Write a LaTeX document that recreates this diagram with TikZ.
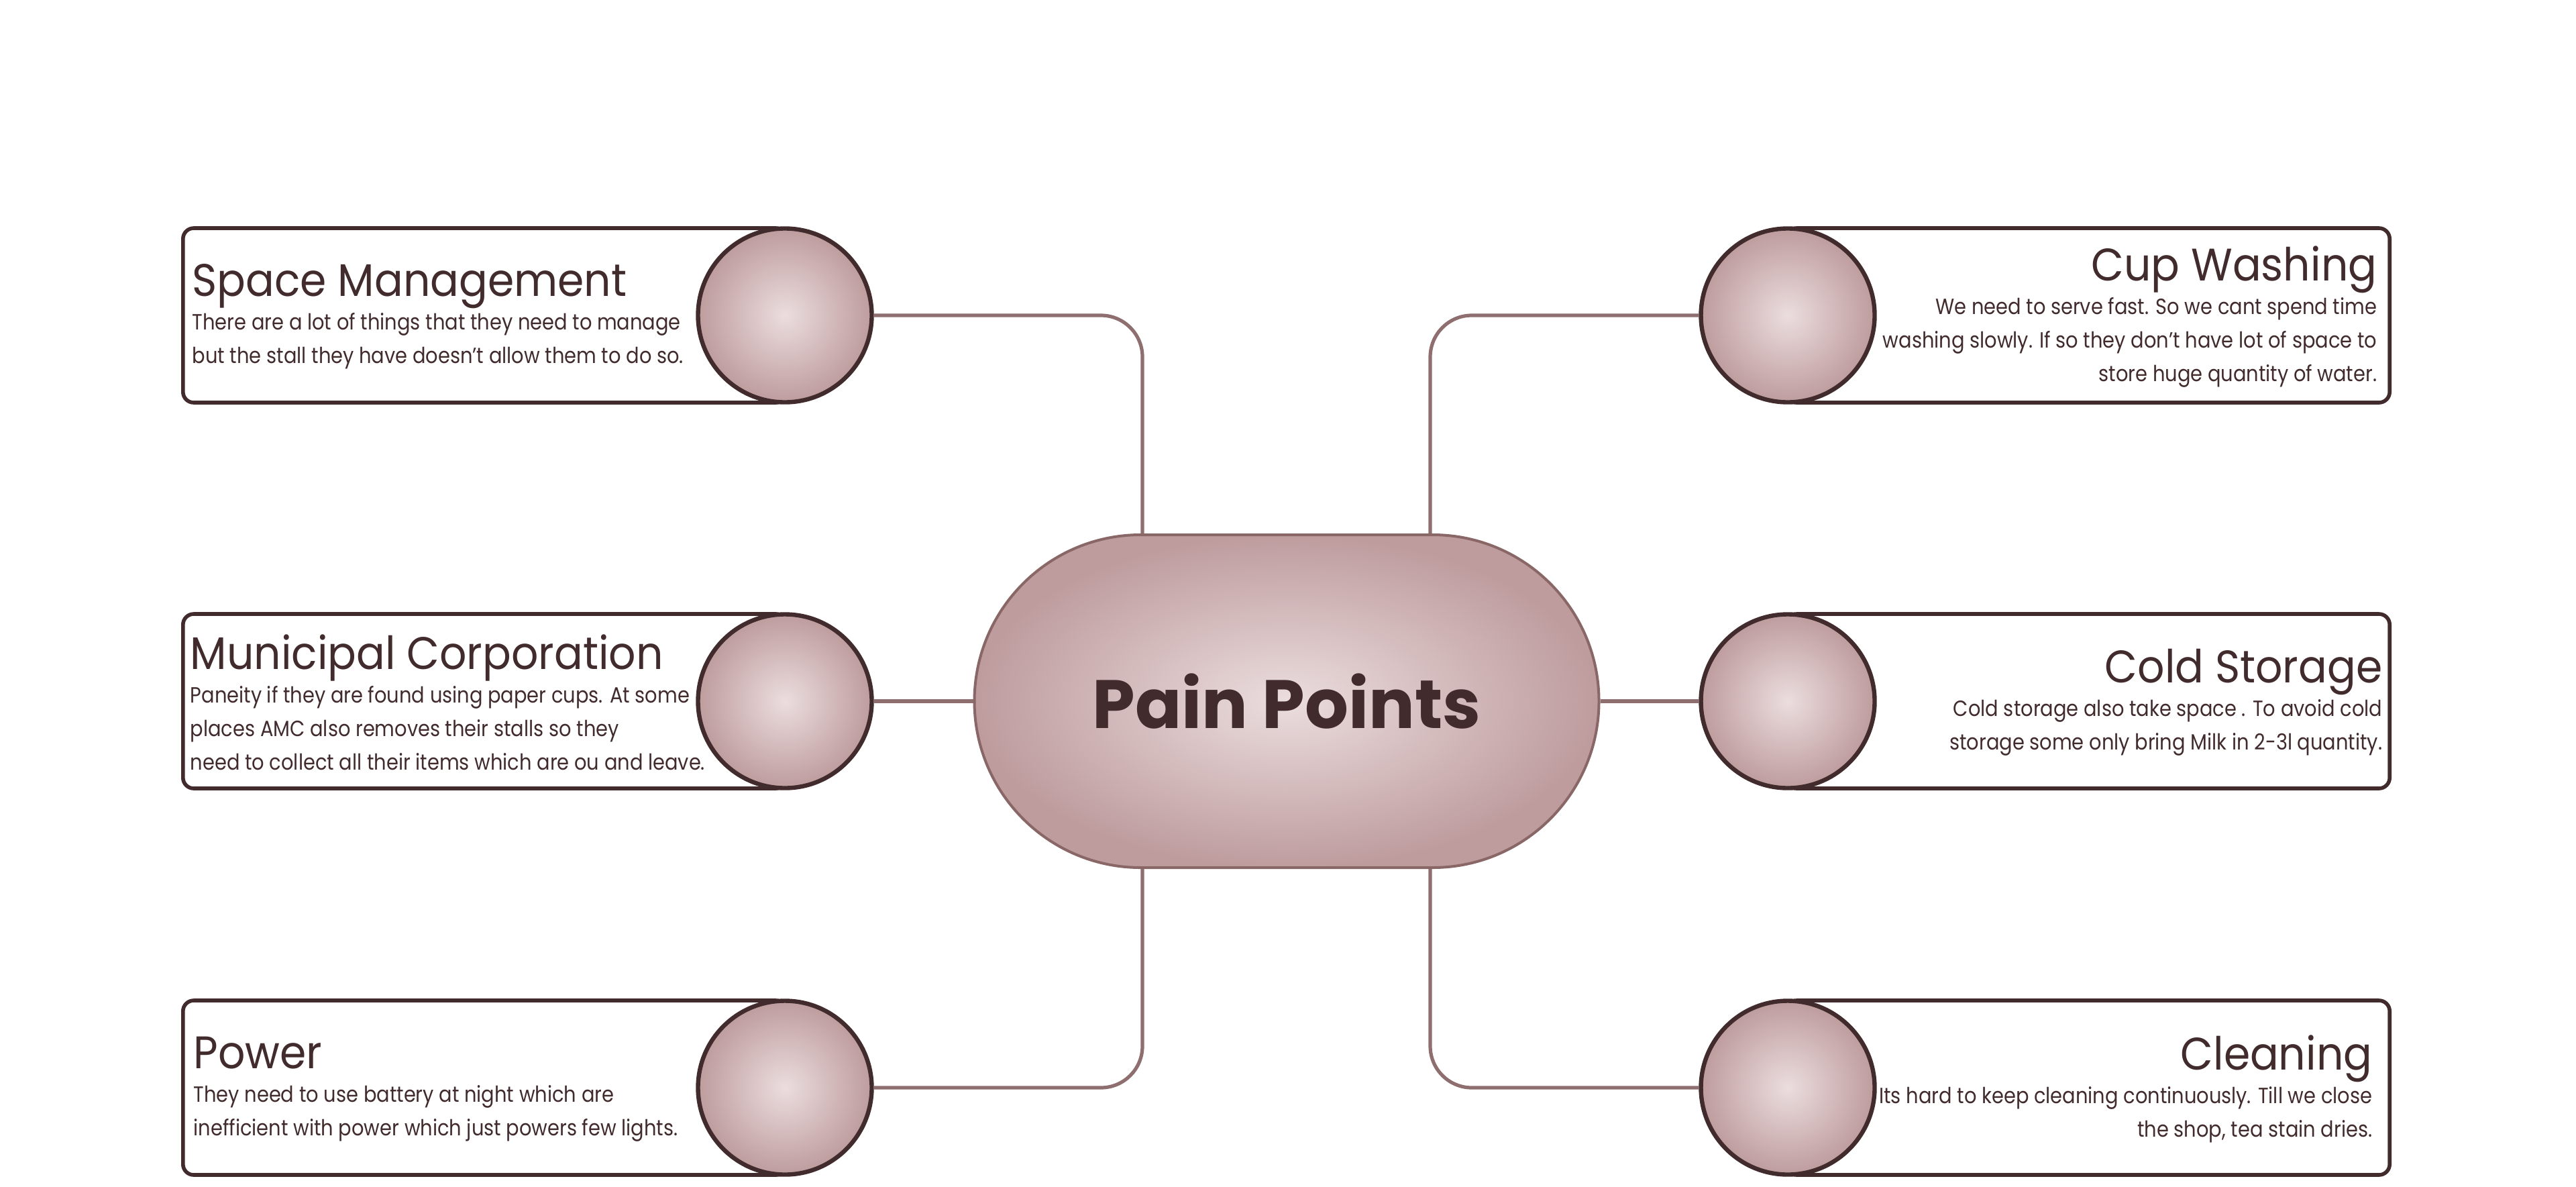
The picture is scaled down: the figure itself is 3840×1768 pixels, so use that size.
\documentclass[tikz,border=0pt]{standalone}
\usepackage{xcolor}
\usepackage{fontspec}
\setmainfont{Poppins}
\newfontfamily\headfont{Poppins}[FakeStretch=0.93]
\newfontfamily\bodyfont{Poppins}[FakeStretch=0.88]
\newcommand{\headsize}{\fontsize{17}{20}\selectfont}

\definecolor{ink}{HTML}{412B2D}
\definecolor{wire}{HTML}{8E6E6E}
\definecolor{pillrim}{HTML}{8A6767}
\definecolor{blushin}{HTML}{EBDDDE}
\definecolor{blushout}{HTML}{BE9C9E}

\begin{document}
\begin{tikzpicture}[x=0.25pt, y=-0.25pt,
  card/.style={draw=ink, line width=1.4pt, rounded corners=4pt, fill=white,
    minimum width=225pt, minimum height=65pt, inner sep=0pt},
  bubble/.style={circle, draw=ink, line width=1.6pt, inner color=blushin,
    outer color=blushout, minimum size=64.75pt, inner sep=0pt},
  pill/.style={draw=pillrim, line width=1pt, rounded corners=62pt,
    inner color=blushin, outer color=blushout, minimum width=232.75pt,
    minimum height=124pt, text=ink, font=\bfseries\fontsize{25.5}{30}\selectfont},
  note/.style={inner sep=0pt, text=ink, font=\bodyfont\fontsize{8.2}{12.5}\selectfont},
  link/.style={draw=wire, line width=1.3pt, rounded corners=15.5pt}]
  \useasboundingbox (0,0) rectangle (3840,1768);

  % left column
  \node[card, anchor=west] (k1) at (270,470) {};
  \node[card, anchor=west] (k2) at (270,1045) {};
  \node[card, anchor=west] (k3) at (270,1621) {};
  \node[bubble] (c1) at (1170,470) {};
  \node[bubble] (c2) at (1170,1045) {};
  \node[bubble] (c3) at (1170,1621) {};

  % right column
  \node[card, anchor=east] (k4) at (3565,470) {};
  \node[card, anchor=east] (k5) at (3565,1045) {};
  \node[card, anchor=east] (k6) at (3565,1621) {};
  \node[bubble] (c4) at (2665,470) {};
  \node[bubble] (c5) at (2665,1045) {};
  \node[bubble] (c6) at (2665,1621) {};

  \node[pill] (pain) at (1918,1045) {Pain Points};

  \node[note, anchor=west, align=left] (t1) at (286,472)
    {{\headfont\headsize Space Management}\\
     There are a lot of things that they need to manage\\
     but the stall they have doesn’t allow them to do so.};
  \node[note, anchor=west, align=left] (t2) at (283,1047)
    {{\headfont\headsize Municipal Corporation}\\
     Paneity if they are found using paper cups. At some\\
     places AMC also removes their stalls so they\\
     need to collect all their items which are ou and leave.};
  \node[note, anchor=west, align=left] (t3) at (288,1623)
    {{\headfont\headsize Power}\\
     They need to use battery at night which are\\
     inefficient with power which just powers few lights.};
  \node[note, anchor=east, align=right] (t4) at (3544,472)
    {{\headfont\headsize Cup Washing}\\
     We need to serve fast. So we cant spend time\\
     washing slowly. If so they don’t have lot of space to\\
     store huge quantity of water.};
  \node[note, anchor=east, align=right] (t5) at (3552,1047)
    {{\headfont\headsize Cold Storage}\\
     Cold storage also take space . To avoid cold\\
     storage some only bring Milk in 2-3l quantity.};
  \node[note, anchor=east, align=right] (t6) at (3537,1623)
    {{\headfont\headsize Cleaning}\\
     Its hard to keep cleaning continuously. Till we close\\
     the shop, tea stain dries.};

  % connectors
  \draw[link] (c1.east) -| ([xshift=-53.75pt]pain.north);
  \draw[link] (c2.east) -- (pain.west);
  \draw[link] (c3.east) -| ([xshift=-53.75pt]pain.south);
  \draw[link] (c4.west) -| ([xshift=53.5pt]pain.north);
  \draw[link] (c5.west) -- (pain.east);
  \draw[link] (c6.west) -| ([xshift=53.5pt]pain.south);
\end{tikzpicture}
\end{document}
